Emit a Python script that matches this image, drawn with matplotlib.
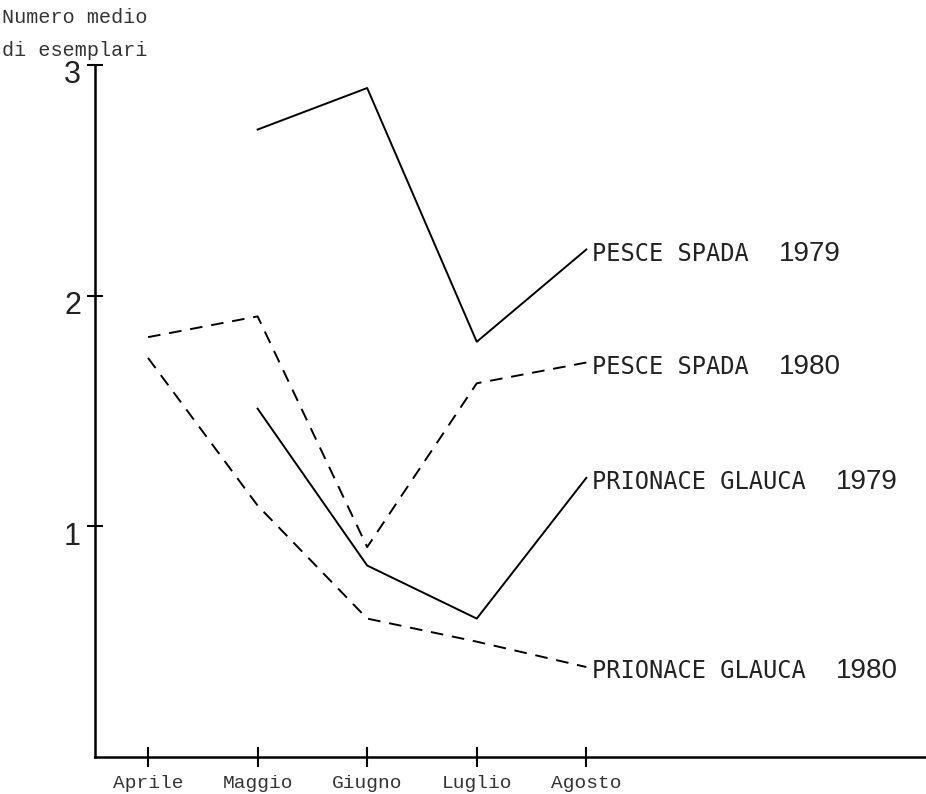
import matplotlib.pyplot as plt
from matplotlib.transforms import ScaledTranslation

# Mesi e valori medi (numero medio di esemplari)
mesi = ["Aprile", "Maggio", "Giugno", "Luglio", "Agosto"]
x = [0, 1, 2, 3, 4]

pesce_spada_1979 = [None, 2.72, 2.90, 1.80, 2.20]
pesce_spada_1980 = [1.82, 1.91, 0.91, 1.62, 1.71]
prionace_1979 = [None, 1.51, 0.83, 0.60, 1.21]
prionace_1980 = [1.73, 1.09, 0.60, 0.50, 0.39]

serie = [
    ("PESCE SPADA", "1979", pesce_spada_1979, "-"),
    ("PESCE SPADA", "1980", pesce_spada_1980, "--"),
    ("PRIONACE GLAUCA", "1979", prionace_1979, "-"),
    ("PRIONACE GLAUCA", "1980", prionace_1980, "--"),
]

mono = "Liberation Mono"
label_font = "DejaVu Sans Mono"
num_font = "Liberation Sans"

fig = plt.figure(figsize=(9.26, 7.94), dpi=100)
ax = fig.add_axes([0.1026, 0.0466, 0.8974, 0.8716])

for nome, anno, valori, stile in serie:
    xs = [xi for xi, v in zip(x, valori) if v is not None]
    ys = [v for v in valori if v is not None]
    if stile == "--":
        ax.plot(xs, ys, color="black", lw=1.4, dashes=(6.5, 4.5))
    else:
        ax.plot(xs, ys, color="black", lw=1.4)
    t = ax.annotate(nome, xy=(xs[-1], ys[-1]), xytext=(4, -3), textcoords="offset points",
                    family=label_font, fontsize=17, ha="left", va="center",
                    color="#222222")
    # l'anno segue il nome con uno spazio
    ax.annotate(anno, xy=(1, 0.5), xycoords=t, xytext=(22, 0),
                textcoords="offset points", family=num_font, fontsize=20,
                ha="left", va="center", color="#222222")

ax.set_xlim(-0.484, 7.1)
ax.set_ylim(0, 3)
ax.set_xticks(x)
ax.set_xticklabels(mesi, family=mono, fontsize=14, color="#333333")
ax.set_yticks([1, 2, 3])
ax.set_yticklabels(["1", "2", "3"], family=num_font, fontsize=22, color="#222222")
ax.tick_params(axis="x", direction="inout", length=14, width=1.5, pad=6)
ax.tick_params(axis="y", direction="inout", length=12, width=1.5, pad=4)

# etichette dell'asse y leggermente sotto le tacche, come nell'originale
offset = ScaledTranslation(0, -7 / 100, fig.dpi_scale_trans)
for lab in ax.get_yticklabels():
    lab.set_transform(lab.get_transform() + offset)

for s in ["top", "right"]:
    ax.spines[s].set_visible(False)
for s in ["left", "bottom"]:
    ax.spines[s].set_linewidth(1.8)

fig.text(0.002, 0.978, "Numero medio", family=mono, fontsize=14.5,
         ha="left", va="center", color="#333333")
fig.text(0.002, 0.937, "di esemplari", family=mono, fontsize=14.5,
         ha="left", va="center", color="#333333")

fig.savefig("out.png", dpi=100)
